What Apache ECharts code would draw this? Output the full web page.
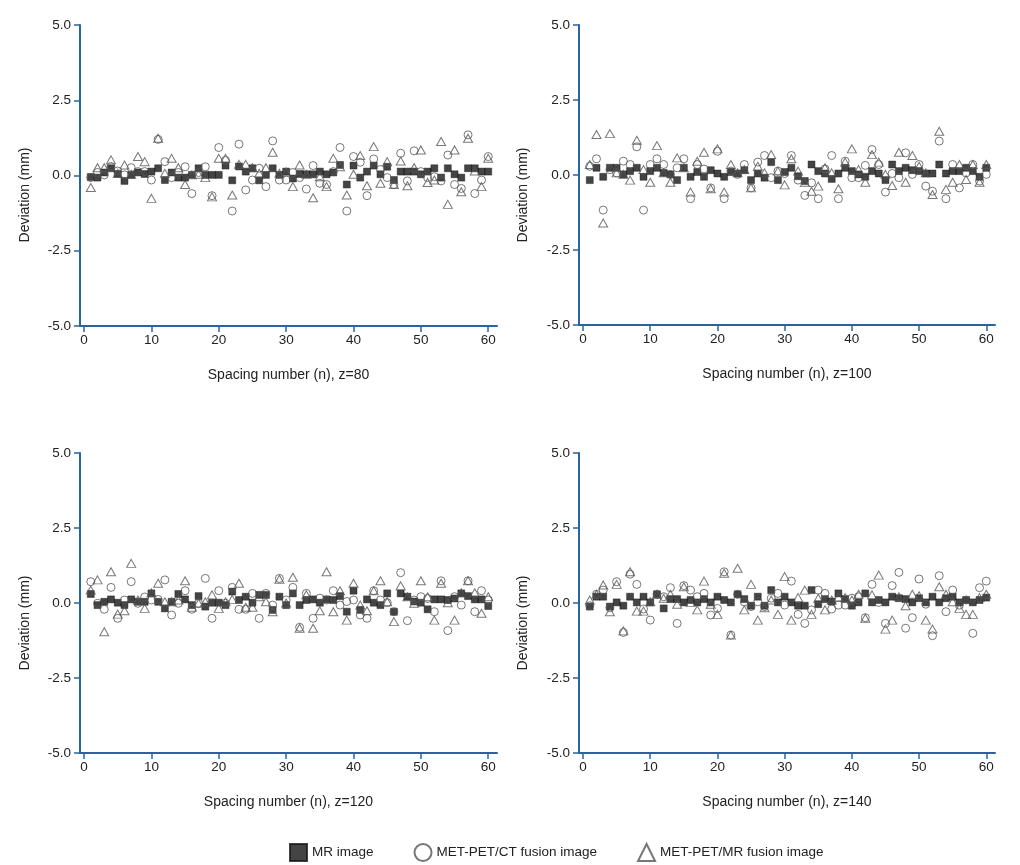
<!DOCTYPE html>
<html><head><meta charset="utf-8">
<script src="https://cdn.jsdelivr.net/npm/echarts@6/dist/echarts.min.js"></script>
<style>html,body{margin:0;padding:0;background:#fff}#chart{width:1020px;height:865px}</style>
</head><body><div id="chart"></div>
<script>
// ---------- DATA ----------
const spacingNumbers = [1,2,3,4,5,6,7,8,9,10,11,12,13,14,15,16,17,18,19,20,21,22,23,24,25,26,27,28,29,30,
  31,32,33,34,35,36,37,38,39,40,41,42,43,44,45,46,47,48,49,50,51,52,53,54,55,56,57,58,59,60];
const xTickValues = [0,10,20,30,40,50,60];
const panelLabels = ['Spacing number (n), z=80','Spacing number (n), z=100','Spacing number (n), z=120','Spacing number (n), z=140'];
const seriesNames = ['MR image','MET-PET/CT fusion image','MET-PET/MR fusion image'];
const yAxisTitle = 'Deviation (mm)';

// z = 80
const mrZ80 = [-0.05,-0.07,0.1,0.24,0.05,-0.18,0.02,0.1,0.05,0.13,0.24,-0.15,0.1,-0.07,-0.07,0.02,0.24,0.02,0.02,0.02,0.33,-0.16,0.3,0.13,0.24,-0.16,0.02,0.24,0.02,0.13,
  -0.1,0.05,0.04,0.04,0.13,0.04,0.1,0.35,-0.3,0.33,-0.07,0.13,0.33,0.04,0.29,-0.15,0.13,0.13,0.13,0.04,0.13,0.24,-0.07,0.24,0.04,-0.07,0.24,0.24,0.13,0.13];
const ctZ80 = [-0.07,0.1,0.02,0.3,0.15,0.02,0.26,0.13,0.13,-0.15,1.2,0.46,-0.07,0.1,0.29,-0.6,0.1,0.29,-0.67,0.93,0.5,-1.18,1.04,-0.48,-0.15,0.24,-0.37,1.15,-0.15,-0.15,
  0.1,-0.07,-0.45,0.33,-0.26,-0.3,0.13,0.93,-1.18,0.63,0.44,-0.67,0.55,0.2,-0.07,-0.3,0.74,-0.18,0.82,0.13,-0.07,-0.04,-0.18,0.68,-0.3,-0.43,1.35,-0.6,-0.15,0.63];
const pmrZ80 = [-0.4,0.26,0.26,0.52,0.07,0.35,0.04,0.63,0.46,-0.76,1.24,0.07,0.57,0.26,-0.3,0.02,0.04,-0.07,-0.71,0.57,0.57,-0.65,0.37,0.37,0.26,0.07,0.26,0.77,0.07,0.12,
  -0.37,0.35,0.04,-0.74,-0.04,-0.37,0.57,0.29,-0.65,0.04,0.66,-0.34,0.96,-0.26,0.46,-0.3,0.48,-0.34,0.26,0.85,-0.23,-0.15,1.13,-0.96,0.85,-0.54,1.24,0.15,-0.37,0.57];
// z = 100
const mrZ100 = [-0.17,0.24,-0.06,0.24,0.24,0.02,0.13,0.24,-0.06,0.13,0.24,0.07,0.02,-0.17,0.24,-0.06,0.1,-0.06,0.16,0.05,-0.06,0.1,0.05,0.16,-0.17,0.05,-0.09,0.43,-0.17,0.1,
  0.24,-0.04,-0.2,0.35,0.13,0.05,-0.13,0.05,0.24,0.13,0.02,-0.06,0.13,0.05,-0.17,0.35,0.13,0.24,0.16,0.13,0.05,0.05,0.35,0.05,0.13,0.13,0.24,0.13,-0.06,0.24];
const ctZ100 = [0.29,0.54,-1.17,0.18,0.07,0.46,0.35,0.94,-1.17,0.35,0.54,0.35,0.02,0.24,0.54,-0.79,0.35,0.2,-0.43,0.79,-0.79,0.13,0.02,0.35,-0.43,0.43,0.65,-0.09,0.13,0.05,
  0.65,-0.17,-0.68,-0.26,-0.79,0.2,0.65,-0.79,0.46,-0.09,-0.09,0.32,0.85,0.35,-0.57,0.05,-0.09,0.74,0.02,0.35,-0.37,-0.54,1.13,-0.79,0.35,-0.43,0.07,0.35,-0.2,0.02];
const pmrZ100 = [0.35,1.35,-1.6,1.38,0.07,0.02,-0.17,1.16,0.18,-0.24,0.98,0.07,-0.24,0.57,0.24,-0.57,0.46,0.76,-0.46,0.87,-0.57,0.35,0.07,0.18,-0.43,0.29,0.07,0.68,0.13,-0.33,
  0.54,0.13,-0.24,-0.54,-0.37,0.24,0.07,-0.46,0.43,0.87,0.18,-0.24,0.68,0.43,0.02,-0.35,0.76,-0.24,0.65,0.29,0.07,-0.65,1.46,-0.48,-0.24,0.35,-0.15,0.35,-0.24,0.35];
// z = 120
const mrZ120 = [0.3,-0.07,0.04,0.12,0.01,-0.07,0.12,0.04,0.04,0.32,0.04,-0.18,0.04,0.3,0.12,-0.07,0.23,-0.12,0.01,0.01,-0.07,0.38,0.1,0.21,0.01,0.27,0.27,-0.23,0.21,-0.07,
  0.32,-0.07,0.1,0.12,0.01,0.12,0.1,0.23,-0.29,0.41,-0.23,0.12,0.01,-0.07,0.32,-0.29,0.32,0.21,0.05,0.01,-0.21,0.12,0.12,0.1,0.15,0.32,0.23,0.12,0.12,-0.1];
const ctZ120 = [0.71,-0.01,-0.21,0.52,-0.51,0.1,0.71,-0.01,0.2,0.1,0.12,0.77,-0.4,-0.01,0.41,-0.21,-0.01,0.82,-0.51,0.41,-0.01,0.52,-0.21,-0.21,0.32,-0.51,0.32,-0.07,0.82,0.1,
  0.52,-0.81,0.32,-0.51,0.16,0.1,0.41,-0.07,0.05,0.1,-0.4,-0.51,0.41,0.1,0.01,-0.29,1.01,-0.59,0.1,0.21,0.15,-0.29,0.74,-0.92,0.21,-0.07,0.74,-0.29,0.41,0.1];
const pmrZ120 = [0.43,0.77,-0.96,1.04,-0.37,-0.26,1.32,0.1,-0.18,0.34,0.66,0.04,0.04,0.1,0.74,-0.14,-0.01,0.04,0.27,-0.18,0.04,0.12,0.66,-0.14,-0.14,0.21,0.04,-0.29,0.79,0.0,
  0.86,-0.84,0.27,-0.84,-0.26,1.04,-0.29,0.41,-0.57,0.66,-0.07,-0.26,0.41,0.74,0.04,-0.62,0.57,0.21,-0.01,0.74,0.21,-0.57,0.66,0.01,-0.57,0.34,0.74,0.34,-0.34,0.21];
// z = 140
const mrZ140 = [-0.12,0.21,0.21,-0.12,0.02,-0.09,0.21,0.02,0.21,0.02,0.29,-0.18,0.13,0.13,0.02,0.1,0.02,0.13,0.02,0.21,0.1,0.02,0.29,0.13,-0.09,0.21,-0.09,0.43,0.02,0.21,
  0.02,-0.09,-0.09,0.43,-0.04,0.13,0.05,0.32,0.13,-0.09,0.02,0.32,0.02,0.1,0.02,0.21,0.16,0.13,0.02,0.16,0.02,0.21,0.02,0.16,0.21,0.02,0.1,0.02,0.1,0.18];
const ctZ140 = [-0.09,0.29,0.43,-0.16,0.71,-0.98,0.96,0.62,-0.2,-0.57,0.29,0.21,0.51,-0.68,0.58,0.43,0.21,0.32,-0.4,-0.18,1.04,-1.07,0.29,0.04,-0.12,0.04,-0.12,0.16,0.32,-0.07,
  0.73,-0.38,-0.68,-0.23,0.43,0.32,-0.2,-0.07,-0.07,0.16,0.21,-0.49,0.62,0.02,-0.68,0.58,1.02,-0.84,-0.49,0.8,-0.04,-1.09,0.91,-0.29,0.43,-0.07,0.1,-1.01,0.51,0.73];
const pmrZ140 = [0.1,0.29,0.6,-0.29,0.62,-0.93,1.04,-0.27,-0.27,0.04,0.29,0.16,0.29,-0.04,0.54,0.02,-0.23,0.73,-0.04,-0.38,0.99,-1.07,1.16,-0.23,0.62,-0.57,-0.16,0.1,-0.38,0.88,
  -0.57,0.18,0.43,-0.38,0.16,-0.23,0.1,0.2,0.18,0.1,0.29,-0.51,0.27,0.93,-0.87,-0.57,0.21,-0.09,0.29,0.24,-0.57,-0.87,0.54,0.29,0.04,-0.18,-0.38,-0.38,0.18,0.29];

// ---------- LAYOUT / STYLE ----------
const FONT = "'Liberation Sans', Arial, sans-serif";
const AXIS_COLOR = '#2a64a0';
const TEXT_COLOR = '#222';
const panelData = [[mrZ80, ctZ80, pmrZ80],[mrZ100, ctZ100, pmrZ100],[mrZ120, ctZ120, pmrZ120],[mrZ140, ctZ140, pmrZ140]];
const gridBoxes = [
  {left: 80, top: 25, width: 417, height: 301},
  {left: 579, top: 25, width: 416, height: 300},
  {left: 80, top: 453, width: 417, height: 300},
  {left: 579, top: 453, width: 416, height: 300}
];
const yNamePos = [[25, 195], [523, 195], [25, 623], [523, 623]];

const markerStyles = [
  {symbol: 'rect', symbolSize: 7, itemStyle: {color: '#151515', borderColor: '#151515', borderWidth: 0.5}},
  {symbol: 'circle', symbolSize: 8, itemStyle: {color: 'rgba(255,255,255,0)', borderColor: '#555', borderWidth: 1}},
  {symbol: 'triangle', symbolSize: [9, 8], itemStyle: {color: 'rgba(255,255,255,0)', borderColor: '#555', borderWidth: 1}}
];

const grids = [], xAxes = [], yAxes = [], series = [], graphics = [];
gridBoxes.forEach((g, p) => {
  grids.push(Object.assign({containLabel: false}, g));
  xAxes.push({
    type: 'value', gridIndex: p, min: -0.6, max: 61.3,
    name: panelLabels[p], nameLocation: 'middle', nameGap: 42,
    nameTextStyle: {fontFamily: FONT, fontSize: 14, color: TEXT_COLOR},
    axisLine: {show: true, onZero: false, lineStyle: {color: AXIS_COLOR, width: 2}},
    axisTick: {show: true, length: 6, customValues: xTickValues, lineStyle: {color: AXIS_COLOR, width: 1.5}},
    axisLabel: {customValues: xTickValues, margin: 7, fontFamily: FONT, fontSize: 13.5, color: TEXT_COLOR},
    splitLine: {show: false}
  });
  yAxes.push({
    type: 'value', gridIndex: p, min: -5, max: 5, interval: 2.5,
    axisLine: {show: true, onZero: false, lineStyle: {color: AXIS_COLOR, width: 2}},
    axisTick: {show: true, length: 6, lineStyle: {color: AXIS_COLOR, width: 1.5}},
    axisLabel: {margin: 9, fontFamily: FONT, fontSize: 13.5, color: TEXT_COLOR, formatter: v => v.toFixed(1)},
    splitLine: {show: false}
  });
  panelData[p].forEach((vals, s) => {
    series.push(Object.assign({
      type: 'scatter', name: seriesNames[s], xAxisIndex: p, yAxisIndex: p,
      data: spacingNumbers.map((n, i) => [n, vals[i]]),
      z: 2 + s
    }, JSON.parse(JSON.stringify(markerStyles[s]))));
  });
  graphics.push({
    type: 'text', x: yNamePos[p][0], y: yNamePos[p][1], rotation: Math.PI / 2,
    style: {text: yAxisTitle, align: 'center', verticalAlign: 'middle', fontFamily: FONT, fontSize: 14, fill: TEXT_COLOR}
  });
});

const chart = echarts.init(document.getElementById('chart'), null, {renderer: 'canvas'});
chart.setOption({
  animation: false,
  backgroundColor: '#fff',
  grid: grids, xAxis: xAxes, yAxis: yAxes, series: series,
  graphic: graphics,
  legend: {
    data: seriesNames, left: 284, top: 838, itemWidth: 17, itemHeight: 17, itemGap: 40,
    selectedMode: false,
    textStyle: {fontFamily: FONT, fontSize: 13.5, color: TEXT_COLOR}
  }
});
</script></body></html>
